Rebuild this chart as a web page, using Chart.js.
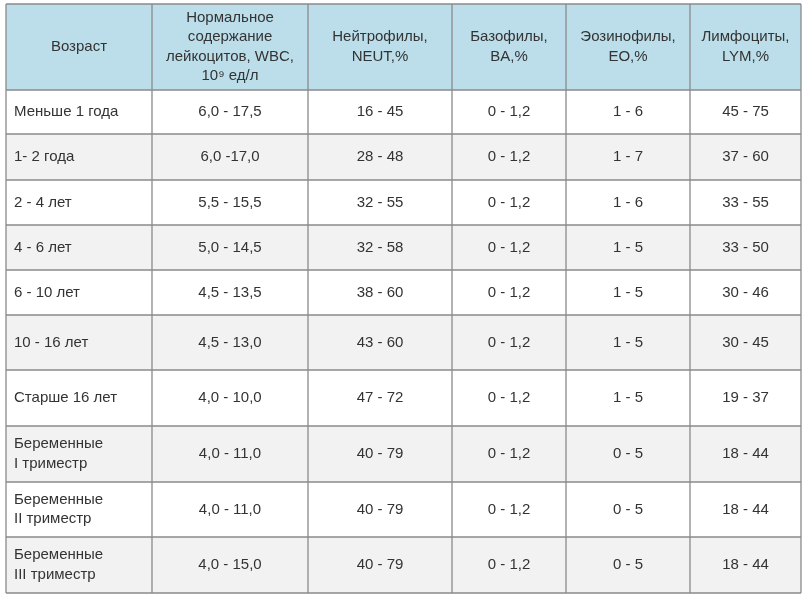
<!DOCTYPE html>
<html><head><meta charset="utf-8">
<script src="https://cdn.jsdelivr.net/npm/chart.js@4"></script>
<style>html,body{margin:0;padding:0;background:#fff}#c{display:block}</style>
</head><body>
<canvas id="c" width="809" height="598"></canvas>
<script>
const headers = [["Возраст"],["Нормальное","содержание","лейкоцитов, WBC,","10⁹ ед/л"],["Нейтрофилы,","NEUT,%"],["Базофилы,","BA,%"],["Эозинофилы,","EO,%"],["Лимфоциты,","LYM,%"]];
const ages = [["Меньше 1 года"],["1- 2 года"],["2 - 4 лет"],["4 - 6 лет"],["6 - 10 лет"],["10 - 16 лет"],["Старше 16 лет"],["Беременные","I триместр"],["Беременные","II триместр"],["Беременные","III триместр"]];
const wbc = ["6,0 - 17,5","6,0 -17,0","5,5 - 15,5","5,0 - 14,5","4,5 - 13,5","4,5 - 13,0","4,0 - 10,0","4,0 - 11,0","4,0 - 11,0","4,0 - 15,0"];
const neut = ["16 - 45","28 - 48","32 - 55","32 - 58","38 - 60","43 - 60","47 - 72","40 - 79","40 - 79","40 - 79"];
const ba = ["0 - 1,2","0 - 1,2","0 - 1,2","0 - 1,2","0 - 1,2","0 - 1,2","0 - 1,2","0 - 1,2","0 - 1,2","0 - 1,2"];
const eo = ["1 - 6","1 - 7","1 - 6","1 - 5","1 - 5","1 - 5","1 - 5","0 - 5","0 - 5","0 - 5"];
const lym = ["45 - 75","37 - 60","33 - 55","33 - 50","30 - 46","30 - 45","19 - 37","18 - 44","18 - 44","18 - 44"];
const colEdges = [6,152,308,452,566,690,801];
const rowEdges = [4,90,134,180,225,270,315,370,426,482,537,593];

const columns = [ages, wbc.map(v=>[v]), neut.map(v=>[v]), ba.map(v=>[v]), eo.map(v=>[v]), lym.map(v=>[v])];

const tablePlugin = {
  id:'table',
  afterDraw(chart){
    const ctx = chart.ctx, xs = chart.scales.x, ys = chart.scales.y;
    const X = v=>xs.getPixelForValue(v), Y = v=>ys.getPixelForValue(v);
    ctx.save();
    // backgrounds
    ctx.fillStyle = '#bcdeea';
    ctx.fillRect(X(colEdges[0]),Y(rowEdges[0]),X(colEdges[6])-X(colEdges[0]),Y(rowEdges[1])-Y(rowEdges[0]));
    for(let r=0;r<ages.length;r++){
      if(r%2===1){
        ctx.fillStyle='#f2f2f2';
        ctx.fillRect(X(colEdges[0]),Y(rowEdges[r+1]),X(colEdges[6])-X(colEdges[0]),Y(rowEdges[r+2])-Y(rowEdges[r+1]));
      }
    }
    ctx.fillStyle='#333';
    ctx.font='15px "Liberation Sans", Arial, sans-serif';
    ctx.textBaseline='middle';
    const lh=19.5;
    const drawCell=(lines,c,r,left)=>{
      const cy=(Y(rowEdges[r])+Y(rowEdges[r+1]))/2;
      const x0=X(colEdges[c]), x1=X(colEdges[c+1]);
      lines.forEach((t,i)=>{
        const y=cy+(i-(lines.length-1)/2)*lh;
        if(left){ctx.textAlign='left';ctx.fillText(t,x0+8,y);}
        else{ctx.textAlign='center';ctx.fillText(t,(x0+x1)/2,y);}
      });
    };
    headers.forEach((h,c)=>drawCell(h,c,0,false));
    columns.forEach((col,c)=>col.forEach((lines,r)=>drawCell(lines,c,r+1,c===0)));
    // grid
    ctx.strokeStyle='#8a8a8a'; ctx.lineWidth=1.3;
    ctx.beginPath();
    rowEdges.forEach(v=>{ctx.moveTo(X(colEdges[0]),Y(v));ctx.lineTo(X(colEdges[6]),Y(v));});
    colEdges.forEach(v=>{ctx.moveTo(X(v),Y(rowEdges[0]));ctx.lineTo(X(v),Y(rowEdges[rowEdges.length-1]));});
    ctx.stroke();
    ctx.restore();
  }
};

new Chart(document.getElementById('c'),{
  type:'scatter',
  data:{datasets:[{data:[],pointRadius:0}]},
  options:{
    responsive:false, animation:false,
    layout:{padding:0},
    plugins:{legend:{display:false},tooltip:{enabled:false}},
    scales:{
      x:{type:'linear',min:0,max:809,display:false},
      y:{type:'linear',min:0,max:598,reverse:true,display:false}
    }
  },
  plugins:[tablePlugin]
});
</script>
</body></html>
